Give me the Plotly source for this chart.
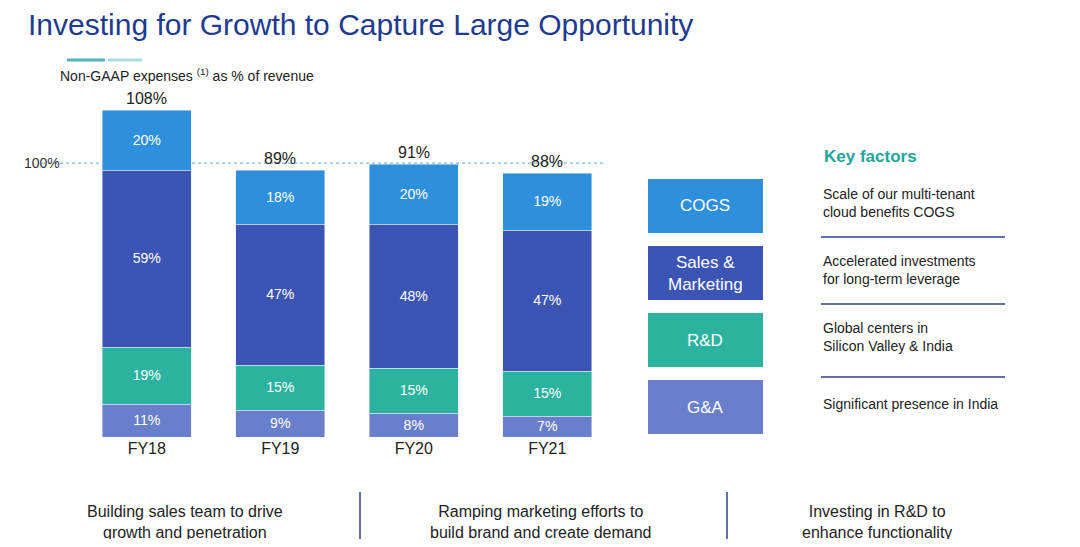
import plotly.graph_objects as go

years = ["FY18", "FY19", "FY20", "FY21"]
ga = [11, 9, 8, 7]
rd = [19, 15, 15, 15]
sm = [59, 47, 48, 47]
cogs = [20, 18, 20, 19]
totals = ["108%", "89%", "91%", "88%"]
ref_level = 91.3

factor_names = ["COGS", "Sales &<br>Marketing", "R&D", "G&A"]
factor_text = ["Scale of our multi-tenant<br>cloud benefits COGS",
               "Accelerated investments<br>for long-term leverage",
               "Global centers in<br>Silicon Valley & India",
               "Significant presence in India"]
bottom_text = ["Building sales team to drive<br>growth and penetration",
               "Ramping marketing efforts to<br>build brand and create demand",
               "Investing in R&D to<br>enhance functionality"]

colors = {"G&A": "#6a7fcc", "R&D": "#2bb3a0", "S&M": "#3c55b4", "COGS": "#2e8fdc"}
factor_colors = [colors["COGS"], colors["S&M"], colors["R&D"], colors["G&A"]]

OFF = 8  # page body margin
W, H = 1080 - 2 * OFF, 547 - 2 * OFF
L, R, T, B = 80, 614, 77, 437  # target pixel positions in the screenshot
def px(x): return (x - L) / (R - L)
def py(y): return (B - y) / (B - T)

fig = go.Figure()
for name, vals in [("G&A", ga), ("R&D", rd), ("S&M", sm), ("COGS", cogs)]:
    fig.add_trace(go.Bar(x=years, y=vals, name=name, marker_color=colors[name],
                         width=0.67, text=[f"{v}%" for v in vals], textposition="inside",
                         insidetextanchor="middle", textfont=dict(color="white", size=16)))

stack = [a + b + c + d for a, b, c, d in zip(ga, rd, sm, cogs)]
for yr, s, t in zip(years, stack, totals):
    fig.add_annotation(x=yr, y=s, text=t, showarrow=False, yanchor="bottom", yshift=1,
                       font=dict(size=16, color="#222"))

fig.add_shape(type="line", xref="paper", yref="y", x0=px(42), x1=px(605), y0=ref_level, y1=ref_level,
              line=dict(color="#5aa8d8", width=1, dash="dot"), layer="below")
fig.add_annotation(xref="paper", yref="y", x=px(22), y=ref_level, text="100%", showarrow=False,
                   xanchor="left", yanchor="middle", font=dict(size=14, color="#333"))

def note(x, y, text, size, color, xanchor="center", align="center"):
    fig.add_annotation(xref="paper", yref="paper", x=px(x), y=py(y), text=text, showarrow=False,
                       xanchor=xanchor, yanchor="middle", align=align,
                       font=dict(size=size, color=color))

shapes = []
for x0, x1, c in [(28, 62, "#1f9e9e"), (67, 105, "#4fb6c0"), (108, 142, "#a8dde2")]:
    shapes.append(dict(type="line", xref="paper", yref="paper", x0=px(x0), x1=px(x1),
                       y0=py(60), y1=py(60), line=dict(color=c, width=3)))
rows = [(179, 233), (246, 300), (313, 367), (380, 434)]
for (y0, y1), c, n, t in zip(rows, factor_colors, factor_names, factor_text):
    shapes.append(dict(type="rect", xref="paper", yref="paper", x0=px(648), x1=px(763),
                       y0=py(y1), y1=py(y0), fillcolor=c, line=dict(width=0)))
    note(705, (y0 + y1) / 2, n, 17, "white")
    note(821, (y0 + y1) / 2 - 3, t, 14, "#222", xanchor="left", align="left")
for y in [237, 304, 377]:
    shapes.append(dict(type="line", xref="paper", yref="paper", x0=px(821), x1=px(1005),
                       y0=py(y), y1=py(y), line=dict(color="#2e3f8f", width=1.5)))
for x in [360, 727]:
    shapes.append(dict(type="line", xref="paper", yref="paper", x0=px(x), x1=px(x),
                       y0=py(547), y1=py(492), line=dict(color="#2e3f8f", width=1.5)))
for x, t in zip([185, 541, 877], bottom_text):
    note(x, 522, t, 16, "#222")

note(26, 24, "Investing for Growth to Capture Large Opportunity", 30, "#1f3b8f", xanchor="left")
note(58, 75, "Non-GAAP expenses <sup>(1)</sup> as % of revenue", 14, "#222", xanchor="left")
note(822, 156, "<b>Key factors</b>", 17, "#22a59a", xanchor="left")

fig.update_layout(
    barmode="stack", width=W, height=H, autosize=False, showlegend=False,
    margin=dict(l=L - OFF, r=W - (R - OFF), t=T - OFF, b=H - (B - OFF)),
    plot_bgcolor="white", paper_bgcolor="white", shapes=shapes,
    font=dict(family="Liberation Sans, Arial, sans-serif"),
    xaxis=dict(range=[-0.5, 3.5], showgrid=False, showline=False, ticks="",
               tickfont=dict(size=16, color="#222")),
    yaxis=dict(range=[0, 120], visible=False),
    uniformtext=dict(mode="show", minsize=10),
)
fig.write_html("out.html")
